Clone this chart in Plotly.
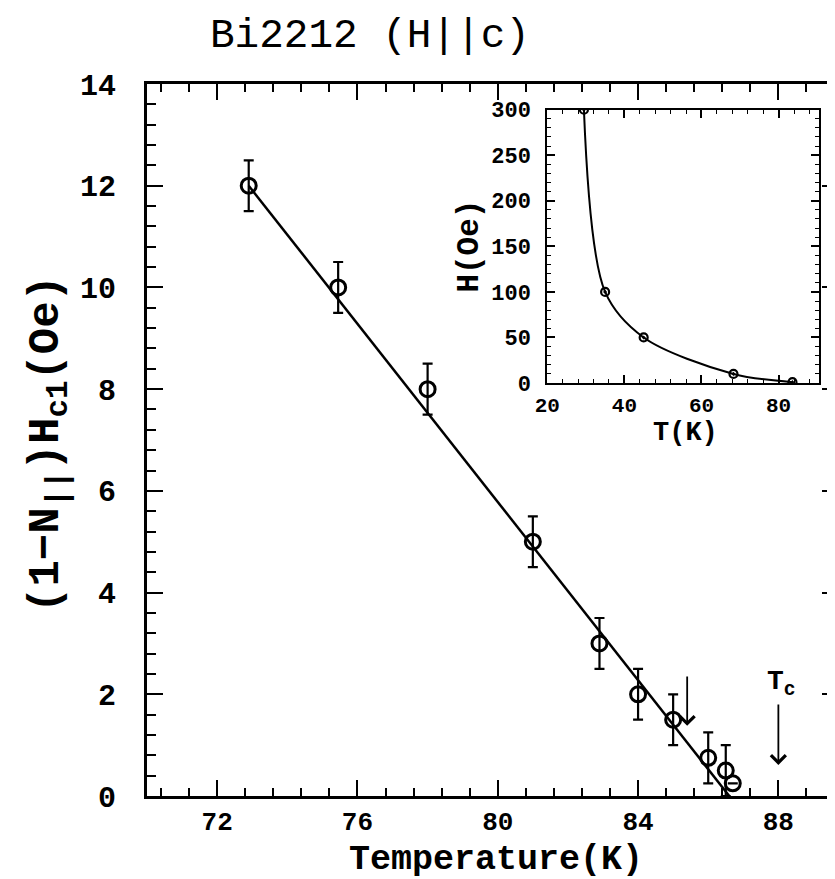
import plotly.graph_objects as go

# ---- data ----
T_main = [72.9, 75.45, 78.0, 81.0, 82.9, 84.0, 85.0, 86.0, 86.5, 86.7]
H_main = [12.0, 10.0, 8.0, 5.0, 3.0, 2.0, 1.5, 0.75, 0.5, 0.25]
H_err = [0.5, 0.5, 0.5, 0.5, 0.5, 0.5, 0.5, 0.5, 0.5, None]

fit_T = [72.9, 86.6]
fit_H = [12.0, 0.0]

arrow_T = [85.4, 88.0]
arrow_top = [2.38, 1.83]
arrow_bottom = [1.38, 0.61]
tc_T = 88.1
tc_H = 2.22

T_inset = [29.5, 35.0, 45.0, 68.3, 83.6]
H_inset = [300.0, 100.0, 50.0, 10.0, 1.0]

FONT = "Liberation Mono"
W, H = 835, 879
L, R, T, B = 139, 2, 76, 91
PW, PH = W - L - R, H - T - B

fig = go.Figure()

# fit line
fig.add_trace(go.Scatter(x=fit_T, y=fit_H, mode="lines",
                         line=dict(color="black", width=2.5),
                         showlegend=False, hoverinfo="skip"))
# main data
fig.add_trace(go.Scatter(
    x=T_main, y=H_main, mode="markers",
    marker=dict(symbol="circle-open", size=15, color="black", line=dict(width=3)),
    error_y=dict(type="data", array=H_err, visible=True, color="black",
                 thickness=2.2, width=5),
    showlegend=False))

# inset
fig.add_trace(go.Scatter(
    x=T_inset, y=H_inset, mode="lines+markers", xaxis="x2", yaxis="y2",
    line=dict(color="black", width=2, shape="spline", smoothing=0.9),
    marker=dict(symbol="circle-open-dot", size=8, color="black", line=dict(width=2.2)),
    showlegend=False))

axis_common = dict(showgrid=False, zeroline=False, showline=True, linecolor="black",
                   mirror="allticks", ticks="inside", tickcolor="black")

fig.update_layout(
    width=W, height=H,
    margin=dict(l=L, r=R, t=T, b=B),
    paper_bgcolor="white", plot_bgcolor="rgba(0,0,0,0)",
    font=dict(family=FONT, color="black"),
    xaxis=dict(**axis_common, range=[70, 89.7], tick0=72, dtick=4,
               linewidth=3, ticklen=16, tickwidth=2,
               tickfont=dict(family=FONT, size=26, weight="bold"),
               ticklabelstandoff=0,
               minor=dict(ticks="inside", dtick=0.8, tick0=72, ticklen=8,
                          tickwidth=1.5, tickcolor="black", showgrid=False)),
    yaxis=dict(**axis_common, range=[0, 14], tick0=0, dtick=2,
               linewidth=3, ticklen=16, tickwidth=2,
               tickfont=dict(family=FONT, size=30, weight="bold"),
               ticklabelstandoff=22,
               minor=dict(ticks="inside", dtick=0.4, tick0=0, ticklen=9,
                          tickwidth=1.5, tickcolor="black", showgrid=False)),
    xaxis2=dict(**axis_common, domain=[0.5793, 0.9726], anchor="y2",
                range=[20, 90.5], tick0=20, dtick=20,
                linewidth=2, ticklen=8, tickwidth=1.5,
                tickfont=dict(family=FONT, size=21, weight="bold"),
                ticklabelstandoff=2,
                minor=dict(ticks="inside", dtick=4, tick0=20, ticklen=4,
                           tickwidth=1.2, tickcolor="black", showgrid=False)),
    yaxis2=dict(**axis_common, domain=[0.580, 0.964], anchor="x2",
                range=[0, 300], tick0=0, dtick=50,
                linewidth=2, ticklen=8, tickwidth=1.5,
                tickfont=dict(family=FONT, size=22, weight="bold"),
                ticklabelstandoff=10,
                minor=dict(ticks="inside", dtick=10, tick0=0, ticklen=4,
                           tickwidth=1.2, tickcolor="black", showgrid=False)),
)

annotations = [
    # title
    dict(text="Bi2212 (H||c)", x=(200 - L) / PW, y=1 + (T - 28) / PH,
         xref="paper", yref="paper", xanchor="left", yanchor="middle",
         showarrow=False, font=dict(family=FONT, size=41)),
    # x title
    dict(text="Temperature(K)", x=0.505, y=-(874 - (H - B)) / PH,
         xref="paper", yref="paper", xanchor="center", yanchor="bottom",
         showarrow=False, font=dict(family=FONT, size=35, weight="bold")),
    # y title
    dict(text="(1\u2212N<sub>||</sub>)H<sub>c1</sub>(Oe)", x=(40 - L) / PW, y=0.495,
         xref="paper", yref="paper", xanchor="center", yanchor="middle",
         textangle=-90, showarrow=False, font=dict(family=FONT, size=44, weight="bold")),
    # inset titles
    dict(text="T(K)", x=(680 - L) / PW, y=((H - B) - 425) / PH,
         xref="paper", yref="paper", xanchor="center", yanchor="middle",
         showarrow=False, font=dict(family=FONT, size=27, weight="bold")),
    dict(text="H(Oe)", x=(463 - L) / PW, y=((H - B) - 238) / PH,
         xref="paper", yref="paper", xanchor="center", yanchor="middle",
         textangle=-90, showarrow=False, font=dict(family=FONT, size=31, weight="bold")),
    # Tc label
    dict(text="T<sub>c</sub>", x=tc_T, y=tc_H, xref="x", yref="y",
         xanchor="center", yanchor="middle", showarrow=False,
         font=dict(family=FONT, size=28, weight="bold")),
]
for xa, yt, yb in zip(arrow_T, arrow_top, arrow_bottom):
    annotations.append(dict(x=xa, y=yb, ax=xa, ay=yt, xref="x", yref="y",
                            axref="x", ayref="y", text="", showarrow=True,
                            arrowhead=4, arrowsize=1.6, arrowwidth=1.8,
                            arrowcolor="black", standoff=0))
fig.update_layout(annotations=annotations)

fig.write_html("out.html")
